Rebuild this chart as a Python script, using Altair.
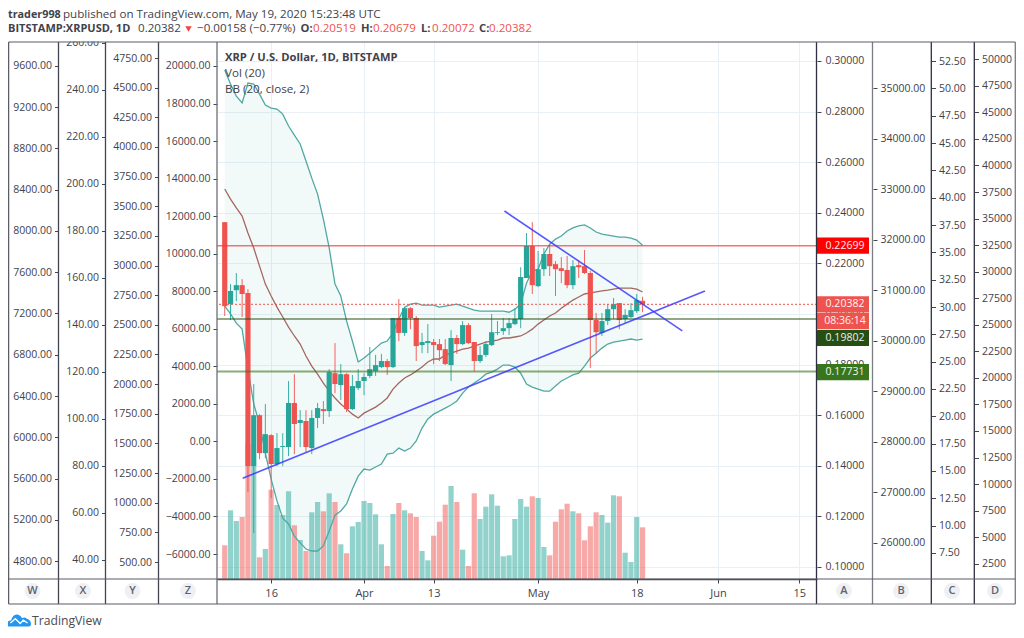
import altair as alt
import pandas as pd

FONT = "Open Sans"
TXT = "#3f424c"
UP = "#26a69a"
DOWN = "#ef5350"

days = list(range(-8, 65))
opens = [.2363,.2039,.2094,.2114,.2083,.1399,.1600,.1450,.1521,.1407,
         .1474,.1474,.1648,.1569,.1577,.1470,.1589,.1624,.1616,.1766,
         .1719,.1762,.1624,.1707,.1735,.1755,.1774,.1790,.1814,.1790,
         .1984,.1925,.2023,.1984,.1877,.1885,.1889,.1881,.1861,.1798,
         .1905,.1881,.1956,.1889,.1814,.1838,.1877,.1925,.1932,.1944,
         .1960,.1980,.2142,.2269,.2110,.2177,.2237,.2197,.2181,.2174,
         .2114,.2193,.2189,.2162,.1976,.1925,.1972,.2019,.2043,.1980,
         .1988,.2011,.2052]
highs = [.2363,.2118,.2162,.2138,.2098,.1723,.1604,.1644,.1525,.1529,
         .1529,.1735,.1762,.1620,.1620,.1620,.1648,.1656,.1782,.1885,
         .1802,.1766,.1759,.1782,.1766,.1869,.1838,.1842,.1822,.1984,
         .2059,.2027,.2027,.1992,.1925,.1960,.1901,.1901,.1901,.1936,
         .1917,.1972,.1964,.1889,.1873,.1893,.2000,.1972,.1984,.1984,
         .2023,.2185,.2320,.2363,.2249,.2261,.2276,.2209,.2225,.2229,
         .2213,.2213,.2253,.2170,.2004,.2004,.2039,.2063,.2043,.2019,
         .2043,.2079,.2068]
lows = [.1992,.1976,.2051,.1988,.1296,.1134,.1426,.1430,.1272,.1399,
        .1399,.1438,.1446,.1474,.1454,.1446,.1549,.1565,.1593,.1687,
        .1660,.1612,.1620,.1699,.1679,.1747,.1755,.1786,.1759,.1786,
        .1893,.1913,.1940,.1814,.1845,.1845,.1802,.1814,.1798,.1735,
        .1842,.1877,.1881,.1774,.1806,.1830,.1873,.1917,.1917,.1917,
        .1956,.1944,.2142,.2079,.2106,.2150,.2150,.2071,.2122,.2102,
        .2098,.2142,.2158,.1786,.1842,.1913,.1956,.1980,.1940,.1964,
        .1984,.2004,.2007]
closes = [.2031,.2091,.2114,.2079,.1399,.1600,.1450,.1525,.1407,.1470,
          .1478,.1648,.1565,.1581,.1474,.1589,.1628,.1616,.1770,.1723,
          .1762,.1624,.1715,.1735,.1751,.1782,.1798,.1814,.1790,.1984,
          .1925,.2023,.1984,.1873,.1889,.1893,.1877,.1857,.1802,.1905,
          .1881,.1956,.1885,.1814,.1838,.1881,.1928,.1928,.1944,.1964,
          .1980,.2146,.2269,.2114,.2177,.2237,.2189,.2177,.2170,.2114,
          .2189,.2185,.2162,.1976,.1928,.1972,.2019,.2039,.1976,.1996,
          .2015,.2055,.2038]
volumes = [33.7,68.7,58,62,135,113,21.7,30,89.3,74,
           64,87.7,53.7,39,28,66.7,77,67.7,85.7,77,
           34.7,25.7,52.7,57,78,76,64.7,34.7,13,65,
           76,68.7,65.7,62,28,18.7,43.3,57.3,74.3,93,
           77,29.3,13,85.7,60,72.3,84.7,73.3,22.7,23.7,
           60,80,72.3,82.7,81,32,23.7,57.3,69.7,75.3,
           67.7,65.7,38.7,52.7,66.7,64,56.3,83.7,82.7,26.3,
           17,62,51.7]
bb_upper = [.2964,.2909,.2861,.2834,.2913,.2909,.2869,.2826,.2814,.2810,
            .2790,.2743,.2707,.2672,.2605,.2537,.2474,.2375,.2261,.2118,
            .2071,.1972,.1893,.1810,.1826,.1845,.1865,.1885,.1893,.1925,
            .1980,.2027,.2039,.2043,.2035,.2035,.2035,.2027,.2031,.2035,
            .2039,.2031,.2023,.2015,.2011,.2011,.2011,.2011,.2011,.2007,
            .2019,.2039,.2122,.2170,.2177,.2237,.2276,.2296,.2308,.2328,
            .2340,.2348,.2352,.2340,.2324,.2316,.2312,.2308,.2304,.2304,
            .2300,.2292,.2272]
bb_mid = [.2494,.2454,.2419,.2387,.2320,.2261,.2189,.2118,.2071,.2027,
          .1988,.1948,.1913,.1881,.1834,.1794,.1762,.1727,.1695,.1668,
          .1644,.1624,.1604,.1589,.1608,.1620,.1632,.1648,.1668,.1703,
          .1727,.1747,.1759,.1774,.1790,.1810,.1822,.1822,.1838,.1845,
          .1853,.1861,.1865,.1873,.1881,.1889,.1893,.1897,.1905,.1905,
          .1909,.1913,.1925,.1940,.1960,.1976,.1992,.2004,.2023,.2039,
          .2055,.2067,.2079,.2083,.2087,.2091,.2094,.2098,.2102,.2102,
          .2102,.2098,.2087]
bb_lower = [.2031,.2000,.1964,.1940,.1782,.1644,.1565,.1450,.1347,.1261,
            .1193,.1170,.1122,.1095,.1071,.1063,.1063,.1083,.1142,.1205,
            .1221,.1249,.1308,.1359,.1387,.1383,.1395,.1407,.1446,.1450,
            .1470,.1458,.1470,.1498,.1549,.1585,.1604,.1616,.1628,.1640,
            .1656,.1687,.1711,.1727,.1743,.1762,.1770,.1782,.1798,.1798,
            .1790,.1766,.1723,.1711,.1703,.1695,.1695,.1715,.1735,.1747,
            .1759,.1766,.1794,.1826,.1845,.1865,.1881,.1889,.1893,.1897,
            .1901,.1897,.1901]

x_ticks = [0, 16, 28, 46, 63, 77, 91]
x_labels = ["16", "Apr", "13", "May", "18", "Jun", "15"]
x_bold = ["Apr", "May", "Jun"]

trend_up_x, trend_up_y = [-4.9, 74.75], [.1351, .2091]
trend_down_x, trend_down_y = [40.2, 70.85], [.2407, .1933]

a_ticks = [.30, .28, .26, .24, .22, .20, .18, .16, .14, .12, .10]
w_ticks = [9600, 9200, 8800, 8400, 8000, 7600, 7200, 6800, 6400, 6000, 5600, 5200, 4800]
x2_ticks = [260, 240, 220, 200, 180, 160, 140, 120, 100, 80, 60, 40]
y2_ticks = [4750, 4500, 4250, 4000, 3750, 3500, 3250, 3000, 2750, 2500, 2250, 2000,
            1750, 1500, 1250, 1000, 750, 500]
z_ticks = [20000, 18000, 16000, 14000, 12000, 10000, 8000, 6000, 4000, 2000, 0,
           -2000, -4000, -6000]
b_ticks = [35000, 34000, 33000, 32000, 31000, 30000, 29000, 28000, 27000, 26000]
c_ticks = [52.5, 50, 47.5, 45, 42.5, 40, 37.5, 35, 32.5, 30, 27.5, 25, 22.5, 20,
           17.5, 15, 12.5, 10, 7.5]
d_ticks = [50000, 47500, 45000, 42500, 40000, 37500, 35000, 32500, 30000, 27500, 25000,
           22500, 20000, 17500, 15000, 12500, 10000, 7500, 5000, 2500]

h_levels = [.22699, .20382, .19802, .17731]
box_centers = [.2270, .2038, .1972, .1905, .1770]
box_texts = ["0.22699", "0.20382", "08:36:14", "0.19802", "0.17731"]
box_colors = ["#ff0000", "#ef5350", "#ef5350", "#274e13", "#38761d"]
BOX_HALF = 0.0031

# plot rectangle of the page: x 217..817, y 41..578
W, H = 600, 537
PAD_L, PAD_T = 209, 34
x_scale = alt.Scale(domain=[-8.47, 93.2], zero=False, nice=False)
p_scale = alt.Scale(domain=[.09524, .30751], zero=False, nice=False)
v_scale = alt.Scale(domain=[0, 537], zero=False, nice=False)

lookup = "{" + ",".join(f"'{v}':'{l}'" for v, l in zip(x_ticks, x_labels)) + "}"
x_axis = alt.Axis(
    values=x_ticks, title=None, labelExpr=f"{lookup}[datum.value]",
    labelFont=FONT, labelFontSize=11, labelColor=TXT, labelPadding=4,
    labelFontWeight=alt.expr("indexof(" + str(x_bold) + ", datum.label) >= 0 ? 'bold' : 'normal'"),
    tickColor="#434651", tickSize=4, domainColor="#434651", domainWidth=1.5,
    grid=True, gridColor="#e9f0f5", gridWidth=1, labelFlush=False, labelOverlap=False,
)
X = lambda f="d": alt.X(f"{f}:Q", scale=x_scale, axis=x_axis)
PY = lambda f, **k: alt.Y(f"{f}:Q", scale=p_scale, axis=None, **k)

df = pd.DataFrame(dict(d=days, o=opens, h=highs, l=lows, c=closes, v=volumes,
                       up=bb_upper, mid=bb_mid, lo=bb_lower))
df["rising"] = df.c >= df.o
df["top"] = df[["o", "c"]].max(axis=1)
df["bot"] = df[["o", "c"]].min(axis=1)
updown = alt.Color("rising:N", scale=alt.Scale(domain=[True, False], range=[UP, DOWN]), legend=None)

layers = []

# price axis A with the horizontal grid
a_axis = alt.Axis(orient="right", values=a_ticks, format=".5f", title=None, grid=True,
                  gridColor="#e9f0f5", gridWidth=1, domain=False, tickColor="#434651",
                  tickSize=4, labelFont=FONT, labelFontSize=10.5, labelColor=TXT,
                  labelPadding=4, labelOverlap=False, labelFlush=False)
layers.append(alt.Chart(pd.DataFrame({"a": a_ticks})).mark_point(opacity=0).encode(
    y=alt.Y("a:Q", scale=p_scale, axis=a_axis)))

# the other price scales
def side_axis(vals, dom, orient, offset, fmt):
    ax = alt.Axis(orient=orient, offset=offset, values=vals, format=fmt, title=None, grid=False,
                  domain=False, tickColor="#434651", tickSize=4, labelFont=FONT, labelFontSize=10.5,
                  labelColor=TXT, labelPadding=3, labelOverlap=False, labelFlush=False)
    sc = alt.Scale(domain=dom, zero=False, nice=False)
    return alt.Chart(pd.DataFrame({"a": vals})).mark_point(opacity=0).encode(
        y=alt.Y("a:Q", scale=sc, axis=ax))

layers += [
    side_axis(w_ticks, [4626, 9832], "left", 158.5, ".2f"),
    side_axis(x2_ticks, [31.9, 260.4], "left", 111.5, ".2f"),
    side_axis(y2_ticks, [357, 4885], "left", 58.5, ".2f"),
    side_axis(z_ticks, [-7330, 21277], "left", 0, ".2f"),
    side_axis(b_ticks, [25287, 35911], "right", 56, ".2f"),
    side_axis(c_ticks, [5.12, 54.24], "right", 114.5, ".2f"),
    side_axis(d_ticks, [1059, 51629], "right", 157.5, "d"),
]

base = alt.Chart(df)
# Bollinger fill, volume, band lines
layers.append(base.mark_area(color=UP, opacity=0.06).encode(x=X(), y=PY("lo"), y2="up:Q"))
layers.append(base.mark_bar(size=5.2, opacity=0.5).encode(
    x=X(), y=alt.Y("v:Q", scale=v_scale, axis=None), color=updown))
for f, col in [("up", "#4fa8a3"), ("lo", "#4fa8a3"), ("mid", "#a4675f")]:
    layers.append(base.mark_line(color=col, strokeWidth=1.3).encode(x=X(), y=PY(f)))

# candles
layers.append(base.mark_rule(strokeWidth=1, opacity=0.9).encode(
    x=X(), y=PY("l"), y2="h:Q", color=updown))
layers.append(base.mark_bar(size=5.2).encode(x=X(), y=PY("bot"), y2="top:Q", color=updown))

# horizontal levels
h_styles = [dict(color="#f33636", strokeWidth=1.6, opacity=0.7),
            dict(color="#ef5350", strokeWidth=1, strokeDash=[2, 2]),
            dict(color="#274e13", strokeWidth=1.2),
            dict(color="#38761d", strokeWidth=2, opacity=0.6)]
for lvl, st in zip(h_levels, h_styles):
    layers.append(alt.Chart(pd.DataFrame({"p": [lvl]})).mark_rule(**st).encode(y=PY("p")))

# trend lines
for tx, ty in [(trend_up_x, trend_up_y), (trend_down_x, trend_down_y)]:
    layers.append(alt.Chart(pd.DataFrame({"d": tx, "p": ty})).mark_line(
        color="#3a3aff", strokeWidth=1.6, opacity=0.85).encode(x=X(), y=PY("p")))

# price boxes on axis A
bx = pd.DataFrame({"c": box_centers, "t": box_texts, "col": box_colors})
bx["a"] = bx.c + BOX_HALF * 1.03
bx["b"] = bx.c - BOX_HALF * 1.03
layers.append(alt.Chart(bx).mark_rect().encode(
    x=alt.value(600), x2=alt.value(652), y=PY("b"), y2="a:Q",
    color=alt.Color("col:N", scale=None)))
layers.append(alt.Chart(bx).mark_text(font=FONT, fontSize=10.5, color="#ffffff", opacity=0.92).encode(
    x=alt.value(628), y=PY("c"), text="t:N"))

def px(x):
    return x - 217
def py(y):
    return y - 41

# white cover above the clipped top label of axis X
layers.append(alt.Chart(pd.DataFrame({"k": [0]})).mark_rect(color="#ffffff").encode(
    x=alt.value(px(60)), x2=alt.value(px(105)), y=alt.value(py(33)), y2=alt.value(py(40.5))))

# panel frame
RIGHT = 1015.3
frame_v = [(8.6, "#5a5c66"), (58.5, "#434651"), (105.5, "#434651"), (158.5, "#434651"),
           (217, "#6d6f78"), (816.5, "#2e3040"), (872.5, "#7b7d85"), (931.3, "#2e3040"),
           (974.3, "#2e3040"), (RIGHT, "#787b86")]
for fx, col in frame_v:
    layers.append(alt.Chart(pd.DataFrame({"k": [0]})).mark_rule(color=col, strokeWidth=1.3).encode(
        x=alt.value(px(fx)), y=alt.value(py(41)), y2=alt.value(py(603))))
for fy in [41, 578, 603]:
    layers.append(alt.Chart(pd.DataFrame({"k": [0]})).mark_rule(color="#5a5c66", strokeWidth=1.2).encode(
        x=alt.value(px(8.6)), x2=alt.value(px(RIGHT)), y=alt.value(py(fy))))

# scale letter badges
letters = ["W", "X", "Y", "Z", "A", "B", "C", "D"]
letter_x = [32.5, 83, 132.5, 188, 844, 901, 952, 995]
for l, lx in zip(letters, letter_x):
    d0 = pd.DataFrame({"t": [l]})
    layers.append(alt.Chart(d0).mark_point(filled=True, color="#eff0f4", opacity=1, size=254).encode(
        x=alt.value(px(lx)), y=alt.value(py(590))))
    layers.append(alt.Chart(d0).mark_text(font=FONT, fontSize=11, fontWeight=600, color="#60636e").encode(
        x=alt.value(px(lx)), y=alt.value(py(590)), text="t:N"))

# texts
def label(t, x, y, size=11.6, weight="normal", color=TXT):
    return alt.Chart(pd.DataFrame({"t": [t]})).mark_text(
        font=FONT, fontSize=size, fontWeight=weight, color=color, align="left", baseline="middle"
    ).encode(x=alt.value(px(x)), y=alt.value(py(y)), text="t:N")

layers += [
    label("trader998", 8, 13.5, 10.8, "bold"),
    label("published on TradingView.com, May 19, 2020 15:23:48 UTC", 63, 13.5),
    label("BITSTAMP:XRPUSD, 1D", 8, 28, 11, "bold"),
    label("0.20382", 138, 28),
    label("\u22120.00158 (\u22120.77%)", 197, 28),
    label("O:", 300.5, 28, 11.2, "bold"), label("0.20519", 313, 28, color=DOWN),
    label("H:", 361, 28, 11.2, "bold"), label("0.20679", 373, 28, color=DOWN),
    label("L:", 421, 28, 11.2, "bold"), label("0.20072", 432, 28, color=DOWN),
    label("C:", 479, 28, 11.2, "bold"), label("0.20382", 489, 28, color=DOWN),
    label("XRP / U.S. Dollar, 1D, BITSTAMP", 225, 57, 11.2, "bold"),
    label("Vol (20)", 225, 73),
    label("BB (20, close, 2)", 225, 89),
    label("TradingView", 32, 619.5, 12.2, "normal", "#4a4c55"),
]
layers.append(alt.Chart(pd.DataFrame({"k": [0]})).mark_point(
    shape="triangle-down", filled=True, color="#ef4444", opacity=1, size=42).encode(
    x=alt.value(px(188.5)), y=alt.value(py(28))))

# logo
CLOUD = ("M-1 .4 Q-1 .05 -.65 .02 Q-.55 -.4 -.2 -.45 Q.1 -.45 .25 -.15 Q.45 -.3 .65 -.1 "
         "Q1 0 1 .35 Q1 .55 .8 .55 L-.8 .55 Q-1 .55 -1 .4 Z")
ZIG = "M-.72 .25 L-.3 -.1 L.1 .3 L.35 .02 L.72 .25"
layers.append(alt.Chart(pd.DataFrame({"k": [0]})).mark_point(
    shape=CLOUD, filled=True, color="#2196f3", opacity=1, size=576).encode(
    x=alt.value(px(19)), y=alt.value(py(619))))
layers.append(alt.Chart(pd.DataFrame({"k": [0]})).mark_point(
    shape=ZIG, filled=False, color="#ffffff", opacity=1, size=576, strokeWidth=1.4).encode(
    x=alt.value(px(19)), y=alt.value(py(619))))

chart = alt.layer(*layers).resolve_scale(y="independent").resolve_axis(y="independent").properties(
    width=W, height=H,
    autosize=alt.AutoSizeParams(type="none"),
    padding={"left": PAD_L, "top": PAD_T, "right": 199, "bottom": 49},
    background="#ffffff",
).configure_view(stroke=None)

chart.save("out.html", embed_options={"renderer": "svg", "actions": False})
